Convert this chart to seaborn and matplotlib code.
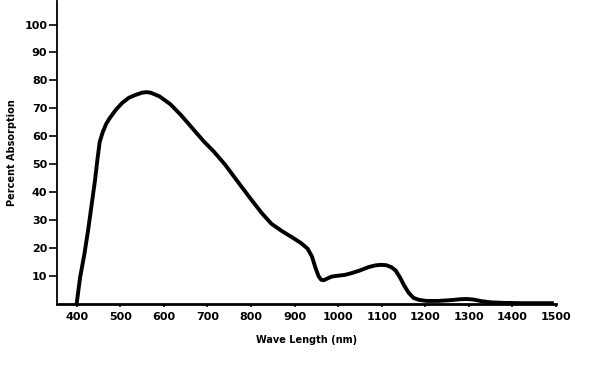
import matplotlib
matplotlib.use("Agg")
import matplotlib.pyplot as plt
import seaborn as sns
import pandas as pd

# valores
wave_length = [398, 400, 408, 418, 426, 434, 442, 448, 453, 460, 468, 476, 490, 505, 520,
               535, 550, 560, 570, 590, 615, 640, 665, 690, 715, 740, 771, 800, 825, 847,
               870, 895, 915, 930, 940, 948, 955, 961, 967, 975, 985, 998, 1015, 1030,
               1050, 1070, 1085, 1097, 1110, 1122, 1132, 1142, 1152, 1162, 1173, 1185,
               1203, 1230, 1260, 1280, 1294, 1310, 1330, 1350, 1380, 1420, 1460, 1495]
absorption = [0, 0, 9.5, 18, 26, 35, 44, 52, 58, 61.5, 64.5, 66.5, 69.5, 72, 73.8,
              74.8, 75.6, 75.8, 75.6, 74.3, 71.5, 67.5, 63, 58.5, 54.5, 50, 43.5, 37.5, 32.5, 28.7,
              26.2, 23.8, 21.8, 19.8, 17, 13, 10, 8.7, 8.5, 9.1, 9.8, 10.1, 10.4, 11,
              12, 13.2, 13.8, 14, 13.9, 13.2, 12, 9.5, 6.5, 4, 2.2, 1.5,
              1.1, 1.1, 1.4, 1.7, 1.8, 1.6, 1.0, 0.6, 0.4, 0.3, 0.3, 0.3]
x_ticks = [400, 500, 600, 700, 800, 900, 1000, 1100, 1200, 1300, 1400, 1500]
y_ticks = [10, 20, 30, 40, 50, 60, 70, 80, 90, 100]

df = pd.DataFrame({"wl": wave_length, "abs": absorption})

sns.set_style("ticks")
plt.rcParams['font.family'] = ['DejaVu Sans']
plt.rcParams['text.color'] = 'black'
plt.rcParams['axes.labelcolor'] = 'black'

fig = plt.figure(figsize=(5.92, 3.76), dpi=100)
ax = fig.add_axes([57 / 592, 72 / 376, (556 - 57) / 592, (376 - 72) / 376 - 0.002])

sns.lineplot(data=df, x="wl", y="abs", color="black", linewidth=2.8, ax=ax,
             solid_joinstyle="round", solid_capstyle="butt")

ax.set_xlim(355, 1496)
ax.set_ylim(0, 108.5)
ax.set_xticks(x_ticks)
ax.set_yticks(y_ticks)
ax.set_xticklabels([str(t) for t in x_ticks], fontsize=8, fontweight="bold")
ax.set_yticklabels([str(t) for t in y_ticks], fontsize=8, fontweight="bold")
ax.tick_params(axis="y", left=True, direction="out", length=6, width=1.2,
               color="black", labelcolor="black", pad=1)
ax.tick_params(axis="x", bottom=True, direction="out", length=2, width=1.2,
               color="black", labelcolor="black", pad=4)

ax.set_xlabel("Wave Length (nm)", fontsize=7, fontweight="bold", labelpad=9)
ax.set_ylabel("Percent Absorption", fontsize=7, fontweight="bold", labelpad=5)

for s in ["top", "right"]:
    ax.spines[s].set_visible(False)
ax.spines["left"].set_linewidth(1.3)
ax.spines["bottom"].set_linewidth(2)
ax.spines["left"].set_color("black")
ax.spines["bottom"].set_color("black")

fig.savefig("out.png", dpi=100)
